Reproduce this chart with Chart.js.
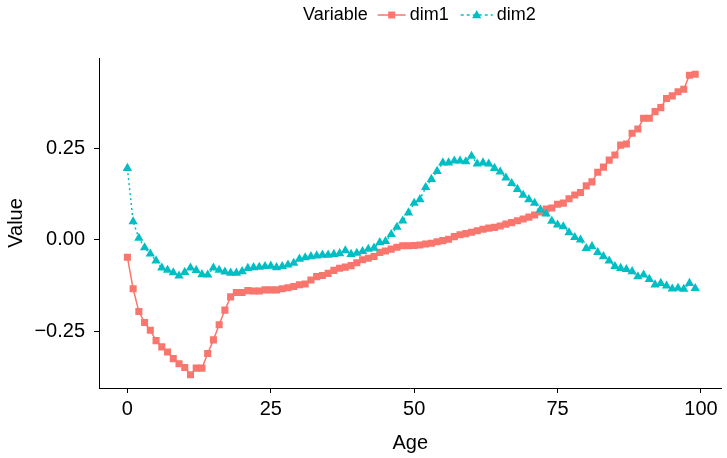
<!DOCTYPE html>
<html lang="en">
<head>
  <meta charset="UTF-8" />
  <title>Value by Age</title>
  <style>
    body {
      margin: 0;
      background-color: #fff;
    }
    #wrap {
      width: 727px;
      height: 458px;
    }
  </style>
</head>
<body>
  <div id="wrap">
    <canvas id="ageChart" width="727" height="458"></canvas>
  </div>

  <script src="https://cdn.jsdelivr.net/npm/chart.js"></script>
  <script>
    // ages on the x axis
    const ages = [
      0, 1, 2, 3, 4, 5, 6, 7, 8, 9, 10, 11, 12, 13, 14, 15, 16, 17, 18, 19,
      20, 21, 22, 23, 24, 25, 26, 27, 28, 29, 30, 31, 32, 33, 34, 35, 36, 37, 38, 39,
      40, 41, 42, 43, 44, 45, 46, 47, 48, 49, 50, 51, 52, 53, 54, 55, 56, 57, 58, 59,
      60, 61, 62, 63, 64, 65, 66, 67, 68, 69, 70, 71, 72, 73, 74, 75, 76, 77, 78, 79,
      80, 81, 82, 83, 84, 85, 86, 87, 88, 89, 90, 91, 92, 93, 94, 95, 96, 97, 98, 99
    ];

    const dim1 = [
      -0.047, -0.133, -0.195, -0.225, -0.246, -0.274, -0.291, -0.305, -0.323, -0.337,
      -0.347, -0.367, -0.349, -0.349, -0.309, -0.272, -0.231, -0.191, -0.155, -0.143,
      -0.143, -0.138, -0.139, -0.139, -0.136, -0.136, -0.136, -0.133, -0.130, -0.127,
      -0.122, -0.120, -0.109, -0.100, -0.097, -0.091, -0.083, -0.077, -0.074, -0.070,
      -0.062, -0.054, -0.050, -0.045, -0.034, -0.030, -0.025, -0.020, -0.016, -0.016,
      -0.015, -0.014, -0.011, -0.009, -0.005, -0.002, 0.002, 0.009, 0.014, 0.017,
      0.021, 0.025, 0.029, 0.032, 0.034, 0.038, 0.043, 0.047, 0.052, 0.057,
      0.062, 0.068, 0.076, 0.084, 0.087, 0.097, 0.100, 0.112, 0.122, 0.129,
      0.147, 0.158, 0.184, 0.198, 0.217, 0.231, 0.258, 0.261, 0.290, 0.302,
      0.331, 0.331, 0.349, 0.360, 0.385, 0.392, 0.403, 0.410, 0.448, 0.451
    ];

    const dim2 = [
      0.195, 0.050, 0.005, -0.021, -0.038, -0.057, -0.076, -0.082, -0.089, -0.098,
      -0.088, -0.076, -0.083, -0.094, -0.095, -0.076, -0.082, -0.087, -0.090, -0.090,
      -0.086, -0.077, -0.075, -0.074, -0.072, -0.071, -0.075, -0.072, -0.068, -0.063,
      -0.052, -0.048, -0.045, -0.043, -0.041, -0.041, -0.039, -0.037, -0.029, -0.039,
      -0.036, -0.031, -0.025, -0.022, -0.007, -0.004, 0.015, 0.035, 0.052, 0.074,
      0.100, 0.110, 0.143, 0.165, 0.187, 0.210, 0.210, 0.215, 0.215, 0.213,
      0.228, 0.207, 0.210, 0.207, 0.195, 0.185, 0.169, 0.154, 0.138, 0.122,
      0.110, 0.100, 0.082, 0.071, 0.051, 0.041, 0.036, 0.020, 0.007, 0.000,
      -0.023, -0.018, -0.034, -0.045, -0.057, -0.072, -0.077, -0.080, -0.086, -0.100,
      -0.095, -0.107, -0.122, -0.118, -0.125, -0.133, -0.131, -0.134, -0.118, -0.132
    ];

    const xTicks = [0, 25, 50, 75, 100];
    const yTicks = [-0.25, 0, 0.25];
    const yTickLabels = ['\u22120.25', '0.00', '0.25'];

    const legendTitle = 'Variable';
    const seriesNames = ['dim1', 'dim2'];
    const seriesColors = ['#F8766D', '#00BFC4'];

    const FONT = '"Liberation Sans", Arial, sans-serif';

    // ggplot-style legend on top: title then line+marker keys
    const topLegend = {
      id: 'topLegend',
      afterDraw(chart) {
        const ctx = chart.ctx;
        const y = 15;
        ctx.save();
        ctx.font = '18px ' + FONT;
        ctx.fillStyle = '#000';
        ctx.textBaseline = 'middle';
        let x = 303;
        ctx.fillText(legendTitle, x, y);
        x += ctx.measureText(legendTitle).width + 10;

        seriesNames.forEach((name, i) => {
          const w = i === 0 ? 28 : 32;
          ctx.strokeStyle = seriesColors[i];
          ctx.fillStyle = seriesColors[i];
          ctx.lineWidth = 1.5;
          ctx.setLineDash(i === 0 ? [] : [3, 3]);
          ctx.beginPath();
          ctx.moveTo(x, y);
          ctx.lineTo(x + w, y);
          ctx.stroke();
          ctx.setLineDash([]);
          const cx = x + w / 2;
          ctx.beginPath();
          if (i === 0) {
            ctx.rect(cx - 3.5, y - 3.5, 7, 7);
          } else {
            ctx.moveTo(cx, y - 5);
            ctx.lineTo(cx + 4.6, y + 3.2);
            ctx.lineTo(cx - 4.6, y + 3.2);
            ctx.closePath();
          }
          ctx.fill();
          x += w + 4;
          ctx.fillStyle = '#000';
          ctx.fillText(name, x, y);
          x += ctx.measureText(name).width + 12;
        });
        ctx.restore();
      }
    };

    const ctx = document.getElementById('ageChart').getContext('2d');

    const chart = new Chart(ctx, {
      type: 'line',
      data: {
        datasets: [
          {
            label: seriesNames[0],
            data: ages.map((a, i) => ({ x: a, y: dim1[i] })),
            borderColor: seriesColors[0],
            backgroundColor: seriesColors[0],
            borderWidth: 1.5,
            pointStyle: 'rect',
            pointRadius: 5,
            pointBorderWidth: 0,
            tension: 0,
            order: 1
          },
          {
            label: seriesNames[1],
            data: ages.map((a, i) => ({ x: a, y: dim2[i] })),
            borderColor: seriesColors[1],
            backgroundColor: seriesColors[1],
            borderWidth: 1.5,
            borderDash: [2, 3],
            pointStyle: 'triangle',
            pointRadius: 5.4,
            pointBorderWidth: 0,
            tension: 0,
            order: 0
          }
        ]
      },
      options: {
        responsive: false,
        animation: false,
        layout: {
          padding: { top: 58, right: 0, left: 0, bottom: 0 }
        },
        plugins: {
          legend: { display: false },
          tooltip: { enabled: false }
        },
        scales: {
          x: {
            type: 'linear',
            min: -4.95,
            max: 103.6,
            afterFit: (scale) => { scale.height = 70; },
            afterBuildTicks: (scale) => {
              scale.ticks = xTicks.map(v => ({ value: v }));
            },
            grid: {
              display: true,
              drawOnChartArea: false,
              drawTicks: true,
              tickLength: 5,
              color: '#000'
            },
            border: { display: true, color: '#000', width: 1 },
            ticks: {
              font: { family: FONT, size: 20 },
              color: '#000',
              padding: 4,
              maxRotation: 0,
              callback: (v) => String(v)
            },
            title: {
              display: true,
              text: 'Age',
              font: { family: FONT, size: 20 },
              color: '#000',
              padding: { top: 0, bottom: 3 }
            }
          },
          y: {
            type: 'linear',
            min: -0.403,
            max: 0.495,
            afterFit: (scale) => { scale.width = 99; },
            afterBuildTicks: (scale) => {
              scale.ticks = yTicks.map(v => ({ value: v }));
            },
            grid: {
              display: true,
              drawOnChartArea: false,
              drawTicks: true,
              tickLength: 5,
              color: '#000'
            },
            border: { display: true, color: '#000', width: 1 },
            ticks: {
              font: { family: FONT, size: 20 },
              color: '#000',
              padding: 9,
              callback: (v) => {
                const k = yTicks.indexOf(v);
                return k >= 0 ? yTickLabels[k] : '';
              }
            },
            title: {
              display: true,
              text: 'Value',
              font: { family: FONT, size: 20 },
              color: '#000',
              padding: { top: 4, bottom: 0 }
            }
          }
        }
      },
      plugins: [topLegend]
    });
  </script>
</body>
</html>
